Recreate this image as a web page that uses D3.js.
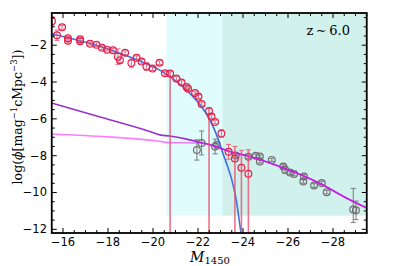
<!DOCTYPE html>
<html>
<head>
<meta charset="utf-8">
<script src="https://cdn.jsdelivr.net/npm/d3@7"></script>
<style>
  body { margin: 0; background: #fff; }
  text { font-family: "DejaVu Sans", sans-serif; }
</style>
</head>
<body>
<svg id="chart" width="399" height="266"></svg>
<script>
// ---- data ----
// red points (faint + intermediate luminosity); null down-error = extends off the plot
var redM      = [-15.51, -15.96, -15.73, -16.22, -16.22, -16.76, -16.76, -17.2, -17.49, -17.73, -17.96, -18.22, -18.44, -18.53, -18.76, -19.04, -19.27, -19.49, -19.71, -19.98, -20.29, -20.53, -20.76, -21.04, -21.27, -21.49, -21.56, -21.87, -22.02, -22.16, -22.49, -22.6, -22.76, -23.04, -23.36, -23.64, -23.93, -24.24];
var redLogPhi = [-0.70, -1.03, -1.46, -1.76, -1.62, -1.78, -1.68, -1.92, -1.97, -2.14, -2.24, -2.27, -2.62, -2.81, -2.41, -2.97, -2.68, -2.89, -3.16, -3.27, -2.95, -3.52, -3.54, -3.81, -4.03, -4.27, -4.36, -4.6, -4.79, -5.19, -5.57, -5.87, -6.17, -6.8, -7.79, -8.15, -8.66, -8.98];
var redErrUp  = [0.25, 0.1, 0.28, 0.12, 0.1, 0.15, 0.1, 0.08, 0.1, 0.1, 0.08, 0.1, 0.42, 0.12, 0.1, 0.22, 0.1, 0.12, 0.2, 0.1, 0.1, 0.1, 0.1, 0.1, 0.1, 0.1, 0.1, 0.1, 0.1, 0.1, 0.15, 0.1, 0.1, 0.2, 0.4, 0.65, 0.95, 1.3];
var redErrDn  = [0.25, 0.1, 0.28, 0.12, 0.1, 0.15, 0.1, 0.08, 0.1, 0.1, 0.08, 0.1, 0.42, 0.12, 0.1, 0.22, 0.1, 0.12, 0.2, 0.1, 0.1, 0.1, null, 0.1, 0.1, 0.1, 0.1, 0.1, 0.1, 0.1, null, 0.1, 0.1, 0.2, 0.4, null, null, null];

// grey points (bright quasars)
var greyM      = [-22.16, -21.95, -22.76, -22.84, -23.68, -24.24, -24.57, -24.75, -24.75, -25.28, -25.79, -25.87, -26.09, -26.27, -26.71, -26.68, -27.16, -27.5, -27.72, -28.9, -29.02];
var greyLogPhi = [-7.31, -7.69, -7.5, -7.41, -7.99, -8.06, -8.01, -8.05, -8.32, -8.23, -8.59, -8.77, -8.91, -9.0, -9.13, -9.4, -9.62, -9.49, -9.98, -10.93, -10.97];
var greyErrUp  = [0.65, 0.55, 0.4, 0.1, 0.1, 0.1, 0.1, 0.08, 0.08, 0.08, 0.1, 0.2, 0.1, 0.1, 0.1, 0.1, 0.1, 0.1, 0.1, 1.15, 0.5];
var greyErrDn  = [0.65, 0.55, 0.4, 0.1, 0.1, 0.1, 0.1, 0.08, 0.08, 0.08, 0.1, 0.2, 0.1, 0.1, 0.1, 0.1, 0.1, 0.1, 0.1, 0.7, 0.5];

// model curves
var blueM      = [-15.5, -16.5, -17.5, -18.5, -19.5, -20.3, -21.2, -21.8, -22.1, -22.5, -22.9, -23.1, -23.32, -23.5, -23.7, -23.9, -24.0];
var blueLogPhi = [-1.38, -1.68, -2.02, -2.42, -2.90, -3.35, -4.12, -4.82, -5.25, -6.0, -7.1, -7.85, -8.6, -9.3, -10.4, -12.1, -12.9];

var purpleM      = [-15.5, -17.5, -19.86, -20.3, -20.74, -21.5, -22.08, -22.74, -23.26, -24.3, -25.77, -27.27, -28.74, -29.5];
var purpleLogPhi = [-5.14, -5.85, -6.69, -6.87, -6.93, -7.1, -7.27, -7.47, -7.72, -8.05, -8.66, -9.42, -10.39, -10.84];

var pinkM      = [-15.5, -18.0, -20.2, -20.7, -22.0, -22.6, -23.26, -24.3, -25.77, -27.27, -28.74, -29.5];
var pinkLogPhi = [-6.82, -6.98, -7.2, -7.29, -7.31, -7.45, -7.72, -8.05, -8.66, -9.42, -10.39, -10.84];

// shaded magnitude ranges
var bandStart = [-20.6, -23.1];
var bandEnd   = [-29.5, -29.5];
var bandFloor = -11.25;

var xTicks = [-16, -18, -20, -22, -24, -26, -28];
var yTicks = [-2, -4, -6, -8, -10, -12];

// ---- layout ----
var pLeft = 51.75, pRight = 366.75, pTop = 13, pBottom = 233;
var svg = d3.select("#chart");

var x = d3.scaleLinear().domain([-15.5, -29.5]).range([pLeft, pRight]);
var y = d3.scaleLinear().domain([-12.2, -0.25]).range([pBottom, pTop]);

svg.append("clipPath").attr("id", "clip")
   .append("rect").attr("x", pLeft).attr("y", pTop)
   .attr("width", pRight - pLeft).attr("height", pBottom - pTop);

var plot = svg.append("g").attr("clip-path", "url(#clip)");

var bandColors = ["#e0fcfc", "#d1f1ec"];
bandStart.forEach(function(s, i) {
    plot.append("rect")
        .attr("x", x(s)).attr("y", pTop)
        .attr("width", x(bandEnd[i]) - x(s))
        .attr("height", y(bandFloor) - pTop)
        .attr("fill", bandColors[i]);
});

function series(ms, vs) {
    return ms.map(function(m, i) { return [m, vs[i]]; });
}
var line = d3.line()
    .x(function(d) { return x(d[0]); })
    .y(function(d) { return y(d[1]); })
    .curve(d3.curveMonotoneX);

// points with error bars
function drawPoints(ms, vs, up, dn, stroke, barStroke, barOpacity) {
    var pts = ms.map(function(m, i) {
        return {m: m, v: vs[i], up: up[i], dn: dn[i]};
    });
    var eb = plot.append("g")
        .attr("stroke", barStroke).attr("stroke-width", 1.1)
        .attr("opacity", barOpacity).attr("fill", "none");
    pts.forEach(function(p) {
        var cx = x(p.m);
        var y1 = y(p.v + p.up);
        var y0 = p.dn === null ? pBottom + 5 : y(p.v - p.dn);
        eb.append("line").attr("x1", cx).attr("x2", cx).attr("y1", y1).attr("y2", y0)
          .attr("stroke-width", p.dn === null ? 1.6 : 1.1);
        eb.append("line").attr("x1", cx - 2.5).attr("x2", cx + 2.5).attr("y1", y1).attr("y2", y1);
        if (p.dn !== null)
            eb.append("line").attr("x1", cx - 2.5).attr("x2", cx + 2.5).attr("y1", y0).attr("y2", y0);
    });
    plot.append("g").selectAll("circle").data(pts).enter().append("circle")
        .attr("cx", function(d) { return x(d.m); })
        .attr("cy", function(d) { return y(d.v); })
        .attr("r", 3.4)
        .attr("fill", "none")
        .attr("stroke", stroke)
        .attr("stroke-width", 1.2);
}

drawPoints(greyM, greyLogPhi, greyErrUp, greyErrDn, "#707070", "#7a7a7a", 0.9);

plot.append("path").datum(series(blueM, blueLogPhi)).attr("d", line)
    .attr("fill", "none").attr("stroke", "#3f6fe0").attr("stroke-width", 1.6);
plot.append("path").datum(series(purpleM, purpleLogPhi)).attr("d", line)
    .attr("fill", "none").attr("stroke", "#9a33cf").attr("stroke-width", 1.6);
plot.append("path").datum(series(pinkM, pinkLogPhi)).attr("d", line)
    .attr("fill", "none").attr("stroke", "#ff00ff").attr("stroke-opacity", 0.5).attr("stroke-width", 1.6);

drawPoints(redM, redLogPhi, redErrUp, redErrDn, "#e3204c", "#e8506e", 0.8);

// ---- axes: inward ticks on all four sides ----
var ax = svg.append("g").attr("stroke", "#000");
var xMinor = d3.range(-15.5, -29.51, -0.5);
var yMinor = d3.range(-12, -0.26, 0.5);
xMinor.forEach(function(t) {
    var major = xTicks.indexOf(t) >= 0;
    var len = major ? 5 : 3;
    ax.append("line").attr("x1", x(t)).attr("x2", x(t)).attr("y1", pBottom).attr("y2", pBottom - len).attr("stroke-width", 1);
    ax.append("line").attr("x1", x(t)).attr("x2", x(t)).attr("y1", pTop).attr("y2", pTop + len).attr("stroke-width", 1);
});
yMinor.forEach(function(t) {
    var major = yTicks.indexOf(t) >= 0;
    var len = major ? 5 : 3;
    ax.append("line").attr("x1", pLeft).attr("x2", pLeft + len).attr("y1", y(t)).attr("y2", y(t)).attr("stroke-width", 1);
    ax.append("line").attr("x1", pRight).attr("x2", pRight - len).attr("y1", y(t)).attr("y2", y(t)).attr("stroke-width", 1);
});
svg.append("rect").attr("x", pLeft).attr("y", pTop)
   .attr("width", pRight - pLeft).attr("height", pBottom - pTop)
   .attr("fill", "none").attr("stroke", "#000").attr("stroke-width", 1.8);

var fmt = function(t) { return "\u2212" + Math.abs(t); };
svg.append("g").selectAll("text").data(xTicks).enter().append("text")
   .attr("x", function(d) { return x(d); }).attr("y", 245.5)
   .attr("text-anchor", "middle").attr("font-size", 11.5)
   .text(fmt);
svg.append("g").selectAll("text").data(yTicks).enter().append("text")
   .attr("x", 47).attr("y", function(d) { return y(d) + 4; })
   .attr("text-anchor", "end").attr("font-size", 11.5)
   .text(fmt);

// labels
var xl = svg.append("text").attr("x", 210).attr("y", 262)
   .attr("text-anchor", "middle")
   .style("font-family", "'DejaVu Serif', serif");
xl.append("tspan").attr("font-style", "italic").attr("font-size", 14).text("M");
xl.append("tspan").attr("font-size", 10).attr("dy", 2).text("1450");

var yl = svg.append("text")
   .attr("transform", "translate(22,117) rotate(-90)")
   .attr("text-anchor", "middle")
   .attr("font-size", 12.5)
   .style("font-family", "'DejaVu Serif', serif");
yl.append("tspan").text("log(");
yl.append("tspan").attr("font-style", "italic").text("\u03d5");
yl.append("tspan").text("[mag");
yl.append("tspan").attr("font-size", 8.5).attr("dy", -5).text("\u22121");
yl.append("tspan").attr("dy", 5).text("cMpc");
yl.append("tspan").attr("font-size", 8.5).attr("dy", -5).text("\u22123");
yl.append("tspan").attr("dy", 5).text("])");

svg.append("text").attr("x", 350).attr("y", 35)
   .attr("text-anchor", "end").attr("font-size", 13)
   .style("font-family", "'DejaVu Serif', serif")
   .text("z\u2009\u223c\u20096.0");
</script>
</body>
</html>
